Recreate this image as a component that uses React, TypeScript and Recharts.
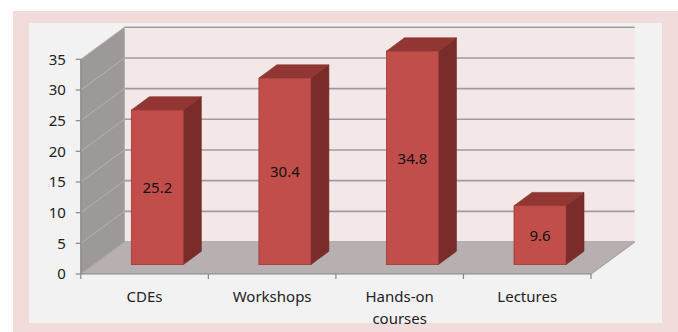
import React from 'react';
import { BarChart, Bar, XAxis, YAxis, ReferenceArea, LabelList } from 'recharts';

const categories = ['CDEs', 'Workshops', 'Hands-on courses', 'Lectures'];
const values = [25.2, 30.4, 34.8, 9.6];
const yTicks = [0, 5, 10, 15, 20, 25, 30, 35];

const data = categories.map((name, i) => ({ name, value: values[i] }));

// 3D projection offsets (floor depth, and bar placement within it)
const DEPTH_X = 43.6;
const DEPTH_Y = -32;
const FACE_X = 12.8; // bar front face offset from front plane
const FACE_Y = -9.4;
const BAR_DX = 18; // bar depth
const BAR_DY = -13.3;

const FONT = '"Noto Sans", sans-serif';

const Walls = (props: any) => {
  const { x, y, width, height } = props;
  const left = x;
  const right = x + width;
  const bottom = y + height;
  const top = y;
  const maxV = yTicks[yTicks.length - 1];
  const yAt = (v: number) => bottom - (height * v) / maxV;
  const bx = DEPTH_X;
  const by = DEPTH_Y;
  const n = categories.length;
  const band = width / n;
  return (
    <g>
      {/* back wall */}
      <rect x={left + bx} y={top + by} width={width} height={height} fill="#f4e7e7" />
      {yTicks.map((t) => (
        <line
          key={'bg' + t}
          x1={left + bx}
          x2={right + bx}
          y1={yAt(t) + by}
          y2={yAt(t) + by}
          stroke="#9d9d9d"
          strokeWidth={1.6}
        />
      ))}
      {/* left wall */}
      <polygon
        points={`${left},${top} ${left + bx},${top + by} ${left + bx},${bottom + by} ${left},${bottom}`}
        fill="#9d9999"
      />
      {yTicks.map((t) => (
        <line
          key={'lw' + t}
          x1={left}
          y1={yAt(t)}
          x2={left + bx}
          y2={yAt(t) + by}
          stroke="#b5b2b2"
          strokeWidth={1}
        />
      ))}
      <line x1={left + bx} y1={top + by} x2={left + bx} y2={bottom + by} stroke="#b0adad" strokeWidth={1} />
      {/* floor */}
      <polygon
        points={`${left},${bottom} ${left + bx},${bottom + by} ${right + bx},${bottom + by} ${right},${bottom}`}
        fill="#b8b0b0"
      />
      <line x1={right} y1={bottom} x2={right + bx} y2={bottom + by} stroke="#a3a3a3" strokeWidth={1.2} />
      <line x1={left} y1={bottom} x2={left + bx} y2={bottom + by} stroke="#a3a3a3" strokeWidth={1} />
      {/* category boundary ticks */}
      {Array.from({ length: n + 1 }).map((_, i) => (
        <line
          key={'xt' + i}
          x1={left + band * i}
          x2={left + band * i}
          y1={bottom}
          y2={bottom + 5}
          stroke="#868686"
          strokeWidth={1.2}
        />
      ))}
    </g>
  );
};

const Bar3D = (props: any) => {
  const { x, y, width, height } = props;
  const fx = x + FACE_X;
  const fy = y + FACE_Y;
  const w = width;
  const h = height;
  return (
    <g>
      {/* side */}
      <polygon
        points={`${fx + w},${fy} ${fx + w + BAR_DX},${fy + BAR_DY} ${fx + w + BAR_DX},${fy + h + BAR_DY} ${fx + w},${fy + h}`}
        fill="#792c2a"
        stroke="#6e2725"
        strokeWidth={0.6}
      />
      {/* top */}
      <polygon
        points={`${fx},${fy} ${fx + BAR_DX},${fy + BAR_DY} ${fx + w + BAR_DX},${fy + BAR_DY} ${fx + w},${fy}`}
        fill="#923634"
        stroke="#84302e"
        strokeWidth={0.6}
      />
      {/* front */}
      <rect x={fx} y={fy} width={w} height={h} fill="#c24e4b" stroke="#9b3a38" strokeWidth={0.8} />
    </g>
  );
};

const BarLabel = (props: any) => {
  const { x, y, width, height, value } = props;
  return (
    <text
      x={x + width / 2 + FACE_X}
      y={y + height / 2 + FACE_Y}
      textAnchor="middle"
      dominantBaseline="central"
      fontFamily={FONT}
      fontSize={15}
      fill="#111"
    >
      {value}
    </text>
  );
};

const XTick = (props: any) => {
  const { x, y, payload } = props;
  const words: string[] = String(payload.value).split(' ');
  const lines = words.length > 1 && String(payload.value).length > 10 ? words : [String(payload.value)];
  return (
    <text x={x} y={y} textAnchor="middle" fontFamily={FONT} fontSize={15} fill="#222">
      {lines.map((l, i) => (
        <tspan key={i} x={x} dy={i === 0 ? 20 : 21.5}>
          {l}
        </tspan>
      ))}
    </text>
  );
};

export default function App() {
  return (
    <div style={{ position: 'absolute', left: 0, top: 0, width: 678, height: 332, background: '#ffffff', overflow: 'hidden' }}>
      <div style={{ position: 'absolute', left: 13, top: 11, width: 700, height: 340, background: '#f2dcdb' }} />
      <div style={{ position: 'absolute', left: 29, top: 22.7, width: 632.8, height: 300, background: '#f2f2f2' }} />
      <div style={{ position: 'absolute', left: 0, top: 0 }}>
        <BarChart
          width={678}
          height={332}
          data={data}
          margin={{ top: 59.3, right: 87, bottom: 18, left: 20.8 }}
          barCategoryGap="29.6%"
        >
          <XAxis
            dataKey="name"
            height={40}
            axisLine={{ stroke: '#868686', strokeWidth: 1.2 }}
            tickLine={false}
            tick={<XTick />}
            interval={0}
          />
          <YAxis
            width={60}
            domain={[0, 35]}
            ticks={yTicks}
            interval={0}
            axisLine={{ stroke: '#868686', strokeWidth: 1.2 }}
            tickLine={{ stroke: '#868686', strokeWidth: 1.2 }}
            tickSize={5}
            tickMargin={10}
            tick={{ fontFamily: FONT, fontSize: 15, fill: '#222' }}
          />
          <ReferenceArea y1={0} y2={35} ifOverflow="visible" shape={<Walls />} />
          <Bar dataKey="value" shape={<Bar3D />} isAnimationActive={false}>
            <LabelList dataKey="value" content={<BarLabel />} />
          </Bar>
        </BarChart>
      </div>
    </div>
  );
}
